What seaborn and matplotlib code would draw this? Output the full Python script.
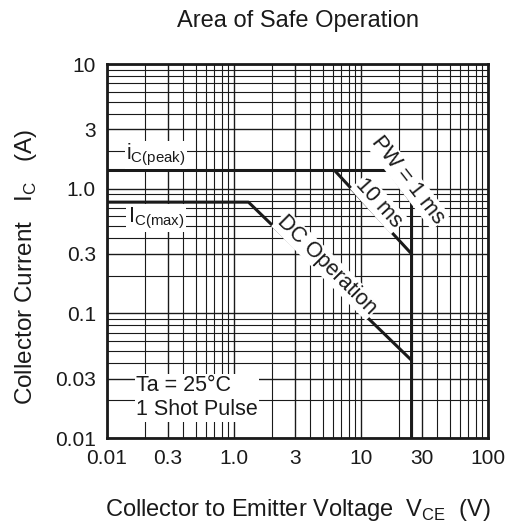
import numpy as np
import pandas as pd
import seaborn as sns
import matplotlib.pyplot as plt

# Safe operating area curves (V_CE in V, I_C in A)
v_1ms = [0.1, 16.4, 25, 25]
i_1ms = [1.4, 1.4, 0.78, 0.01]
v_10ms = [6.2, 25]
i_10ms = [1.4, 0.3]
v_dc = [0.1, 1.3, 25]
i_dc = [0.78, 0.78, 0.042]

x_ticks = [0.1, 0.3, 1, 3, 10, 30, 100]
x_ticklabels = ["0.01", "0.3", "1.0", "3", "10", "30", "100"]  # first label as printed
y_ticks = [0.01, 0.03, 0.1, 0.3, 1, 3, 10]
y_ticklabels = ["0.01", "0.03", "0.1", "0.3", "1.0", "3", "10"]

sns.set_style("white")
plt.rcParams["font.family"] = ["Liberation Sans", "DejaVu Sans"]
plt.rcParams["mathtext.fontset"] = "custom"
plt.rcParams["mathtext.rm"] = "Liberation Sans"

ink = "#1a1a1a"

fig = plt.figure(figsize=(5.15, 5.25), dpi=100)
ax = fig.add_axes([0.2078, 0.1657, 0.7398, 0.7123])

ax.set_xscale("log")
ax.set_yscale("log")
ax.set_xlim(0.1, 100)
ax.set_ylim(0.01, 10)

ax.grid(True, which="major", color=ink, lw=1.0)
ax.grid(True, which="minor", color=ink, lw=0.8)
ax.set_axisbelow(True)

for v, i in [(v_1ms, i_1ms), (v_10ms, i_10ms), (v_dc, i_dc)]:
    df = pd.DataFrame({"V": v, "I": i})
    sns.lineplot(data=df, x="V", y="I", sort=False, estimator=None,
                 color=ink, lw=2.2, ax=ax, legend=False)

ax.set_xticks(x_ticks)
ax.set_xticklabels(x_ticklabels)
ax.set_yticks(y_ticks)
ax.set_yticklabels(y_ticklabels)
ax.tick_params(axis="both", which="both", length=0, labelsize=15, colors=ink)
ax.tick_params(axis="x", pad=8)
ax.tick_params(axis="y", pad=8)

for s in ax.spines.values():
    s.set_color(ink)
    s.set_linewidth(2.0)

box = dict(facecolor="white", edgecolor="none", pad=1.0)
fs = 15.5
ax.text(0.243, 1.86, r"i$_\mathregular{C(peak)}$", fontsize=fs, ha="center", va="center",
        bbox=box, color=ink)
ax.text(0.243, 0.58, r"I$_\mathregular{C(max)}$", fontsize=fs, ha="center", va="center",
        bbox=box, color=ink)
ax.text(0.17, 0.021, "Ta = 25\u00b0C\n1 Shot Pulse", fontsize=fs, ha="left", va="center",
        linespacing=1.2, bbox=box, color=ink)
ax.text(5.37, 0.244, "DC Operation", fontsize=fs, ha="center", va="center",
        rotation=-45, rotation_mode="anchor", bbox=box, color=ink)
ax.text(13.9, 0.76, "10 ms", fontsize=fs, ha="center", va="center",
        rotation=-48, rotation_mode="anchor", bbox=box, color=ink)
ax.text(23.3, 1.17, "PW = 1 ms", fontsize=fs, ha="center", va="center",
        rotation=-52, rotation_mode="anchor", bbox=box, color=ink)

ax.set_title("Area of Safe Operation", fontsize=17, pad=27, color=ink)
ax.set_xlabel(r"Collector to Emitter Voltage  V$_\mathregular{CE}$  (V)", fontsize=17,
              labelpad=21, color=ink)
ax.set_ylabel(r"Collector Current   I$_\mathregular{C}$   (A)", fontsize=17.5, color=ink)
ax.yaxis.set_label_coords(-0.179, 0.457)

fig.savefig("out.png", dpi=100)
